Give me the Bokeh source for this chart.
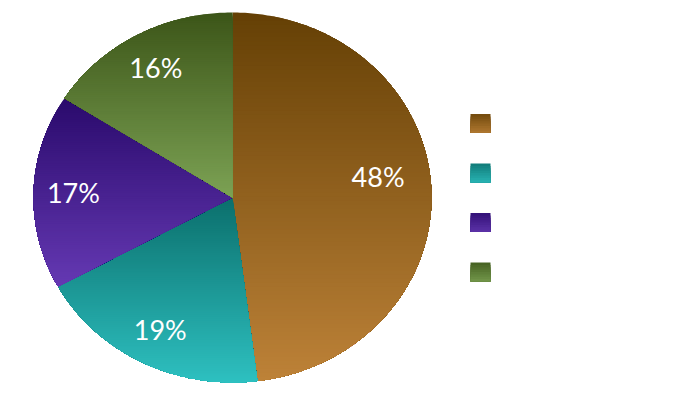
import numpy as np
from bokeh.plotting import figure
from bokeh.embed import file_html
from bokeh.resources import INLINE
from bokeh.core.properties import value

# ---- data ----
categories = ["Series A", "Series B", "Series C", "Series D"]
shares = [48, 19, 17, 16]
pct_labels = ["48%", "19%", "17%", "16%"]

# ---- style ----
top_colors = ["#654005", "#0b6f6c", "#2a0a6c", "#3c5518"]
bottom_colors = ["#bd8238", "#2ec0c0", "#6539b3", "#7ca254"]

W, H = 664, 384
CX, CY = 232, H - 197
RX, RY = 199, 185

p = figure(width=W, height=H, x_range=(0, W), y_range=(0, H),
           output_backend="svg", toolbar_location=None, min_border=0,
           outline_line_color=None, background_fill_color="white",
           border_fill_color="white")
p.axis.visible = False
p.grid.visible = False


def hex2rgb(h):
    h = h.lstrip("#")
    return np.array([int(h[i:i + 2], 16) for i in (0, 2, 4)], dtype=float)


def mix(c1, c2, t):
    c = hex2rgb(c1) * (1 - t) + hex2rgb(c2) * t
    return "#%02x%02x%02x" % tuple(int(round(v)) for v in c)


def clip_below(poly, y0):
    out = []
    n = len(poly)
    for i in range(n):
        S = poly[i - 1]
        E = poly[i]
        ins = S[1] <= y0
        ine = E[1] <= y0
        if ine:
            if not ins:
                t = (y0 - S[1]) / (E[1] - S[1])
                out.append((S[0] + t * (E[0] - S[0]), y0))
            out.append(E)
        elif ins:
            t = (y0 - S[1]) / (E[1] - S[1])
            out.append((S[0] + t * (E[0] - S[0]), y0))
    return out


total = float(sum(shares))
cum = 0.0
xs_all, ys_all, cols_all = [], [], []
lab_x, lab_y = [], []
for i, s in enumerate(shares):
    a0 = cum / total * 2 * np.pi
    a1 = (cum + s) / total * 2 * np.pi
    cum += s
    th = np.linspace(a0, a1, max(10, int(s * 5)))
    poly = [(CX, CY)] + [(CX + RX * np.sin(t), CY + RY * np.cos(t)) for t in th]
    ys = [q[1] for q in poly]
    ytop, ybot = max(ys), min(ys)
    nstrips = 90
    edges = np.linspace(ytop, ybot, nstrips + 1)
    for k in range(nstrips):
        hi = edges[k]
        pc = poly if k == 0 else clip_below(poly, hi)
        if len(pc) < 3:
            continue
        tmid = (k + 0.5) / nstrips
        xs_all.append([q[0] for q in pc])
        ys_all.append([q[1] for q in pc])
        cols_all.append(mix(top_colors[i], bottom_colors[i], tmid))
    am = (a0 + a1) / 2
    if s > 30:
        am -= 0.09
    f = 0.74 if s > 30 else 0.8
    lab_x.append(CX + f * RX * np.sin(am))
    lab_y.append(CY + f * RY * np.cos(am))

p.patches(xs_all, ys_all, fill_color=cols_all, line_color=None)

p.text(x=lab_x, y=lab_y, text=pct_labels, text_color="white",
       text_font=value("Lato"), text_font_size="27px",
       text_align="center", text_baseline="middle")

# legend
LX, LY0, LDY, LS = 480, H - 123, 49.5, 19
for i, c in enumerate(categories):
    yc = LY0 - i * LDY
    n = 8
    for k in range(n):
        t = (k + 0.5) / n
        y_hi = yc + LS / 2 - k * LS / n
        p.quad(left=LX - 10, right=LX + 10, top=y_hi, bottom=yc - LS / 2,
               fill_color=mix(top_colors[i], bottom_colors[i], 0.15 + 0.7 * t), line_color=None)
p.text(x=[LX + 55] * len(categories), y=[LY0 - i * LDY for i in range(len(categories))],
       text=categories, text_color="white", text_font=value("Lato"),
       text_font_size="16px", text_baseline="middle")

open("out.html", "w").write(file_html(p, INLINE))
